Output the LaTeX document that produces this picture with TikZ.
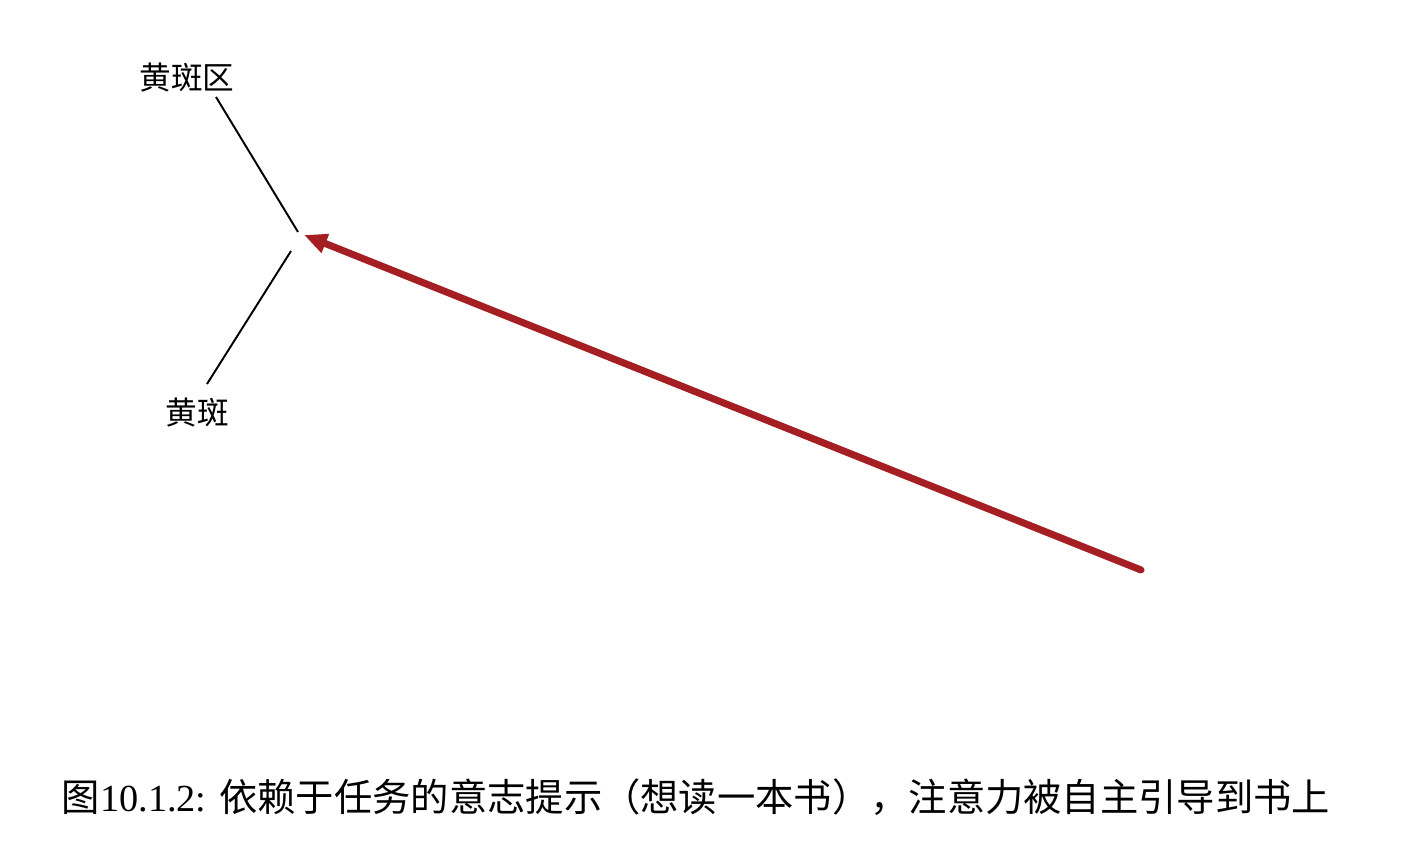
\documentclass[tikz,border=0pt]{standalone}
\usepackage{fontspec}
\setmainfont{Liberation Serif}
\newfontfamily\cjk{Noto Sans CJK SC}
\usetikzlibrary{arrows.meta}
\definecolor{arrowred}{RGB}{165,30,36}
\begin{document}
\begin{tikzpicture}[x=0.02cm,y=-0.02cm,
  lbl/.style={font=\cjk\fontsize{18}{20}\selectfont, inner sep=0pt},
  pointer/.style={line width=1.1pt, black},
  bigarrow/.style={line width=4pt, arrowred, line cap=round, -{Triangle[length=0.46cm,width=0.38cm]}},
  captionstyle/.style={font=\fontsize{21.8}{26}\selectfont, inner sep=0pt}]
\useasboundingbox (0,0) rectangle (1427,857);
\node[lbl] (macregion) at (187,78) {黄斑区};
\node[lbl] (macula) at (197,413) {黄斑};
\coordinate (p1a) at (216,97);
\coordinate (p1b) at (298,232);
\coordinate (p2a) at (291,251);
\coordinate (p2b) at (207,384);
\draw[pointer] (p1a) -- (p1b);
\draw[pointer] (p2a) -- (p2b);
\coordinate (astart) at (1141,570);
\coordinate (atip) at (304,235);
\draw[bigarrow] (astart) -- (atip);
\node[captionstyle] (cap) at (696,797) {{\cjk 图}10.1.2: {\cjk 依赖于任务的意志提示（想读一本书），注意力被自主引导到书上}};
\end{tikzpicture}
\end{document}
